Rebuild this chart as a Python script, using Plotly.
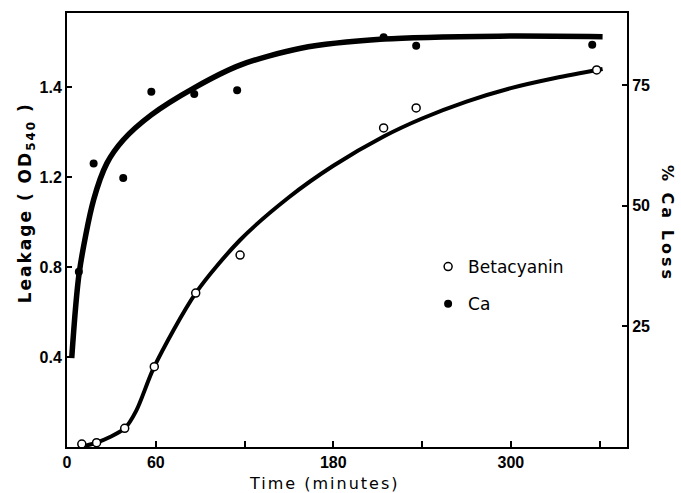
import plotly.graph_objects as go

# ---- data ----
# Betacyanin leakage (left axis, OD units as plotted)
beta_time = [10, 20, 39, 59, 87, 117, 214, 236, 358]
beta_od = [0.013, 0.019, 0.083, 0.357, 0.684, 0.853, 1.418, 1.507, 1.676]
# fitted curve for betacyanin
beta_curve_time = [9, 20, 39, 47, 59, 87, 117, 150, 180, 214, 240, 270, 300, 330, 362]
beta_curve_od = [0.001, 0.019, 0.083, 0.164, 0.357, 0.684, 0.92, 1.11, 1.25, 1.38, 1.46,
                 1.535, 1.595, 1.64, 1.68]

# Ca loss (right axis, %)
ca_time = [8, 18, 38, 57, 86, 115, 214, 236, 355]
ca_loss = [36.3, 58.7, 55.7, 73.6, 73.1, 73.9, 84.9, 83.1, 83.3]
# fitted curve for Ca
ca_curve_time = [3.2, 8.3, 18, 27, 38, 57, 86, 117, 158, 214, 292, 362]
ca_curve_loss = [18.4, 36.2, 51.2, 58.8, 63.6, 68.8, 74.4, 79.1, 82.6, 84.5, 85.1, 85.0]

x_ticks = [0, 60, 180, 300]
x_ticklabels = ["0", "60", "180", "300"]
x_minor_ticks = [120, 240, 360]
left_ticks = [0.4, 0.8, 1.2, 1.6]
left_ticklabels = ["0.4", "0.8", "1.2", "1.4"]
right_ticks = [25, 50, 75]

fig = go.Figure()

fig.add_trace(go.Scatter(x=ca_curve_time, y=ca_curve_loss, yaxis="y2", mode="lines",
                         line=dict(color="black", width=5.5, shape="spline", smoothing=0.8),
                         showlegend=False, hoverinfo="skip"))
fig.add_trace(go.Scatter(x=beta_curve_time, y=beta_curve_od, mode="lines",
                         line=dict(color="black", width=4, shape="spline", smoothing=0.8),
                         showlegend=False, hoverinfo="skip"))
fig.add_trace(go.Scatter(x=beta_time, y=beta_od, mode="markers", name="Betacyanin",
                         marker=dict(symbol="circle", size=8, color="white",
                                     line=dict(color="black", width=1.5)),
                         legendgroup="a"))
fig.add_trace(go.Scatter(x=ca_time, y=ca_loss, yaxis="y2", mode="markers", name="Ca",
                         marker=dict(symbol="circle", size=8, color="black",
                                     line=dict(color="black", width=0)),
                         legendgroup="b"))

tickfont = dict(family="Liberation Sans", size=16, color="black", weight="bold")

fig.update_layout(
    width=681, height=493,
    margin=dict(l=67, r=54, t=13, b=46),
    paper_bgcolor="white", plot_bgcolor="white",
    showlegend=True,
    legend=dict(x=(428 - 66.7) / 560.3, y=(447 - 249) / 434, xanchor="left", yanchor="top",
                font=dict(family="DejaVu Sans", size=17, color="black"),
                bgcolor="rgba(0,0,0,0)", tracegroupgap=12, itemwidth=30),
    xaxis=dict(range=[0, 378.5], tickvals=x_ticks, ticktext=x_ticklabels,
               ticks="inside", ticklen=6, tickwidth=2, tickcolor="black",
               minor=dict(tickvals=x_minor_ticks, ticks="inside", ticklen=6, tickwidth=2,
                          tickcolor="black", showgrid=False),
               showline=True, linecolor="black", linewidth=2, mirror=True,
               showgrid=False, zeroline=False, tickfont=tickfont),
    yaxis=dict(range=[0, 1.929], tickvals=left_ticks, ticktext=left_ticklabels,
               ticks="inside", ticklen=5, tickwidth=2, tickcolor="black",
               showline=True, linecolor="black", linewidth=2, mirror=True,
               showgrid=False, zeroline=False, tickfont=tickfont),
    yaxis2=dict(range=[0, 89.9], tickvals=right_ticks, overlaying="y", side="right",
                ticks="inside", ticklen=5, tickwidth=2, tickcolor="black",
                showline=True, linecolor="black", linewidth=2,
                showgrid=False, zeroline=False, tickfont=tickfont),
    annotations=[
        dict(text='<span style="letter-spacing:2px">Time (minutes)</span>',
             xref="paper", yref="paper", x=(324 - 66.7) / 560.3, y=(447 - 483) / 434,
             showarrow=False, font=dict(family="DejaVu Sans", size=16, color="black"),
             xanchor="center", yanchor="middle"),
        dict(text='<span style="letter-spacing:2px"><b>Leakage ( OD<sub>540</sub> )</b></span>',
             xref="paper", yref="paper", x=(26 - 66.7) / 560.3, y=(447 - 203) / 434,
             showarrow=False, textangle=-90,
             font=dict(family="DejaVu Sans", size=17, color="black"),
             xanchor="center", yanchor="middle"),
        dict(text='<span style="letter-spacing:3px"><b>% Ca Loss</b></span>',
             xref="paper", yref="paper", x=(667 - 66.7) / 560.3, y=(447 - 224) / 434,
             showarrow=False, textangle=90,
             font=dict(family="DejaVu Sans", size=16, color="black"),
             xanchor="center", yanchor="middle"),
    ],
)

fig.write_html("out.html", config={"displayModeBar": False},
               post_script="document.body.style.margin='0';document.body.style.padding='0';")
